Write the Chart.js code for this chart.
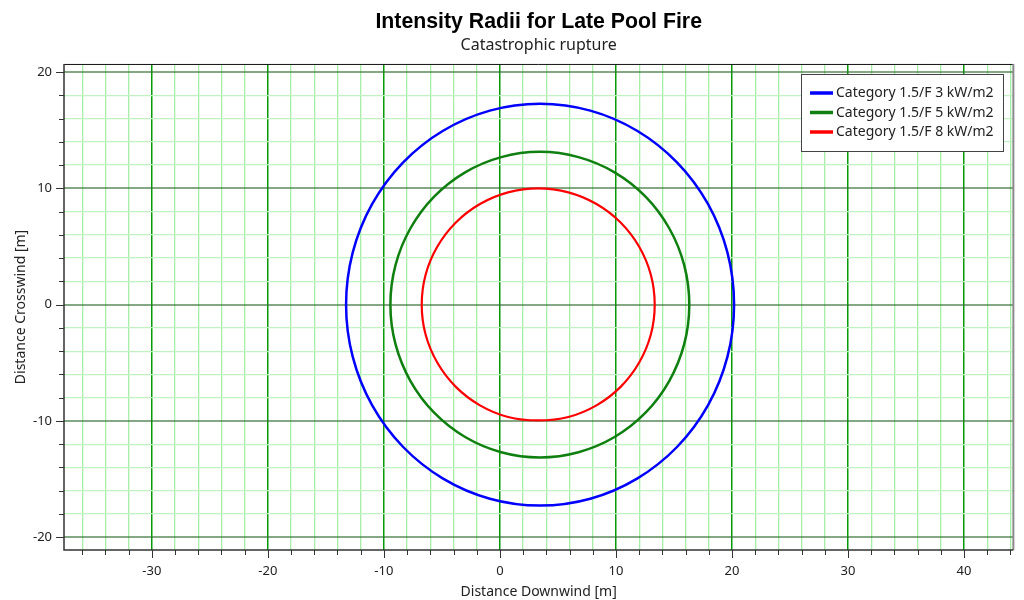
<!DOCTYPE html>
<html>
<head>
<meta charset="utf-8">
<script src="https://cdn.jsdelivr.net/npm/chart.js@4.4.1/dist/chart.umd.min.js"></script>
<style>
  html, body { margin: 0; padding: 0; background: #ffffff; }
  #wrap { width: 1024px; height: 600px; }
</style>
</head>
<body>
<div id="wrap"><canvas id="c" width="1024" height="600"></canvas></div>
<script>
// Series names and colours
const seriesLabels = ['Category 1.5/F 3 kW/m2', 'Category 1.5/F 5 kW/m2', 'Category 1.5/F 8 kW/m2'];
const seriesColors = ['#0000ff', '#0f7f0f', '#ff0000'];

// Closed contour of the 3 kW/m2 intensity radius (downwind x, crosswind y, metres)
const ring3X = [20.18, 19.61, 17.94, 15.28, 11.82, 7.79, 3.46, -0.87, -4.90, -8.36, -11.02, -12.69, -13.26, -12.69, -11.02, -8.36, -4.90, -0.87, 3.46, 7.79, 11.82, 15.28, 17.94, 19.61];
const ring3Y = [0, 4.47, 8.64, 12.22, 14.96, 16.69, 17.28, 16.69, 14.96, 12.22, 8.64, 4.47, 0, -4.47, -8.64, -12.22, -14.96, -16.69, -17.28, -16.69, -14.96, -12.22, -8.64, -4.47];

// Closed contour of the 5 kW/m2 intensity radius
const ring5X = [16.32, 15.88, 14.59, 12.55, 9.88, 6.77, 3.44, 0.11, -3.00, -5.67, -7.71, -9.00, -9.44, -9.00, -7.71, -5.67, -3.00, 0.11, 3.44, 6.77, 9.88, 12.55, 14.59, 15.88];
const ring5Y = [0, 3.40, 6.57, 9.29, 11.38, 12.69, 13.14, 12.69, 11.38, 9.29, 6.57, 3.40, 0, -3.40, -6.57, -9.29, -11.38, -12.69, -13.14, -12.69, -11.38, -9.29, -6.57, -3.40];

// Closed contour of the 8 kW/m2 intensity radius
const ring8X = [13.34, 13.00, 11.99, 10.40, 8.32, 5.90, 3.30, 0.70, -1.72, -3.80, -5.39, -6.40, -6.74, -6.40, -5.39, -3.80, -1.72, 0.70, 3.30, 5.90, 8.32, 10.40, 11.99, 13.00];
const ring8Y = [0, 2.59, 5.00, 7.07, 8.66, 9.66, 10.00, 9.66, 8.66, 7.07, 5.00, 2.59, 0, -2.59, -5.00, -7.07, -8.66, -9.66, -9.96, -9.66, -8.66, -7.07, -5.00, -2.59];

// Axis ticks: every 2 m, labelled every 10 m
const xTicks = [-36, -34, -32, -30, -28, -26, -24, -22, -20, -18, -16, -14, -12, -10, -8, -6, -4, -2, 0, 2, 4, 6, 8, 10, 12, 14, 16, 18, 20, 22, 24, 26, 28, 30, 32, 34, 36, 38, 40, 42, 44];
const yTicks = [-20, -18, -16, -14, -12, -10, -8, -6, -4, -2, 0, 2, 4, 6, 8, 10, 12, 14, 16, 18, 20];
const xLabelValues = [-30, -20, -10, 0, 10, 20, 30, 40];
const xLabelTexts = ['-30', '-20', '-10', '0', '10', '20', '30', '40'];
const yLabelValues = [-20, -10, 0, 10, 20];
const yLabelTexts = ['-20', '-10', '0', '10', '20'];

const uiFont = '"Noto Sans", "Open Sans", sans-serif';

function pts(xs, ys) { return xs.map((x, i) => ({ x: x, y: ys[i] })); }
function isMajor(v) { return Math.abs(v % 10) < 1e-9; }

// Each contour is a closed curve: join the last point back to the first
const closedContours = {
  id: 'closedContours',
  afterDatasetUpdate(chart, args) {
    const line = args.meta.dataset;
    if (!line) return;
    line._loop = true;
    line._pointsUpdated = false;
    delete line._segments;
    delete line._path;
  }
};

// Tick marks outside the plot, plot frame and legend box
const framePlugin = {
  id: 'frame',
  afterDraw(chart) {
    const { ctx, chartArea: a, scales } = chart;
    ctx.save();
    ctx.strokeStyle = '#333333';
    ctx.lineWidth = 1;
    xTicks.forEach(v => {
      const px = Math.round(scales.x.getPixelForValue(v)) + 0.5;
      const len = isMajor(v) ? 8 : 5;
      ctx.beginPath(); ctx.moveTo(px, a.bottom); ctx.lineTo(px, a.bottom + len); ctx.stroke();
    });
    yTicks.forEach(v => {
      const py = Math.round(scales.y.getPixelForValue(v)) + 0.5;
      const len = isMajor(v) ? 8 : 5;
      ctx.beginPath(); ctx.moveTo(a.left, py); ctx.lineTo(a.left - len, py); ctx.stroke();
    });
    ctx.strokeStyle = '#111111';
    ctx.lineWidth = 1;
    ctx.beginPath(); ctx.moveTo(a.left, a.top + 0.5); ctx.lineTo(a.right, a.top + 0.5); ctx.stroke();
    ctx.strokeStyle = '#8a8a8a';
    ctx.lineWidth = 2;
    ctx.beginPath(); ctx.moveTo(a.right, a.top); ctx.lineTo(a.right, a.bottom); ctx.stroke();
    ctx.strokeStyle = '#333333';
    ctx.lineWidth = 1.5;
    ctx.beginPath(); ctx.moveTo(a.left, a.top); ctx.lineTo(a.left, a.bottom); ctx.lineTo(a.right, a.bottom); ctx.stroke();

    const bx = 801.5, by = 74.5, bw = 202, bh = 77;
    ctx.fillStyle = '#ffffff';
    ctx.fillRect(bx, by, bw, bh);
    ctx.strokeStyle = '#444444';
    ctx.lineWidth = 1;
    ctx.strokeRect(bx, by, bw, bh);
    ctx.font = '14px ' + uiFont;
    ctx.textBaseline = 'middle';
    ctx.textAlign = 'left';
    chart.data.datasets.forEach((ds, i) => {
      const y = 93 + i * 19.5;
      ctx.strokeStyle = ds.borderColor;
      ctx.lineWidth = 3.5;
      ctx.beginPath(); ctx.moveTo(810, y); ctx.lineTo(833, y); ctx.stroke();
      ctx.fillStyle = '#222222';
      ctx.fillText(ds.label, 836, y + 0.5);
    });
    ctx.restore();
  }
};

new Chart(document.getElementById('c'), {
  type: 'line',
  data: {
    datasets: [
      { label: seriesLabels[0], data: pts(ring3X, ring3Y), borderColor: seriesColors[0], borderWidth: 2.5 },
      { label: seriesLabels[1], data: pts(ring5X, ring5Y), borderColor: seriesColors[1], borderWidth: 2.5 },
      { label: seriesLabels[2], data: pts(ring8X, ring8Y), borderColor: seriesColors[2], borderWidth: 2.2 }
    ].map(d => Object.assign(d, { pointRadius: 0, pointHoverRadius: 0, tension: 0.34, fill: false, spanGaps: true }))
  },
  options: {
    responsive: false,
    animation: false,
    events: [],
    layout: { padding: { left: 0, right: 10, top: 0, bottom: 0 } },
    plugins: {
      legend: { display: false },
      tooltip: { enabled: false },
      title: {
        display: true, fullSize: false,
        text: 'Intensity Radii for Late Pool Fire',
        color: '#000000',
        font: { family: '"Liberation Sans", Arial, sans-serif', size: 21.3, weight: 'bold', lineHeight: 1.2 },
        padding: { top: 8.9, bottom: 0 }
      },
      subtitle: {
        display: true, fullSize: false,
        text: 'Catastrophic rupture',
        color: '#222222',
        font: { family: uiFont, size: 16, lineHeight: 1.2 },
        padding: { top: 1.7, bottom: 8.6 }
      }
    },
    scales: {
      x: {
        type: 'linear',
        min: -37.57, max: 44.25,
        afterBuildTicks: s => { s.ticks = xTicks.map(v => ({ value: v })); },
        afterFit: s => { s.height = 50; },
        ticks: {
          autoSkip: false, maxRotation: 0, padding: 13.5,
          color: '#222222', font: { family: uiFont, size: 13 },
          callback: v => { const k = xLabelValues.indexOf(v); return k >= 0 ? xLabelTexts[k] : ''; }
        },
        grid: {
          drawTicks: false,
          color: c => isMajor(c.tick.value) ? '#079a07' : '#a6eea6',
          lineWidth: c => isMajor(c.tick.value) ? 1.5 : 1.3
        },
        border: { display: false },
        title: {
          display: true, text: 'Distance Downwind [m]', color: '#222222',
          font: { family: uiFont, size: 14, lineHeight: 1.2 },
          padding: { top: 0, bottom: 0 }
        }
      },
      y: {
        type: 'linear',
        min: -21.1, max: 20.7,
        afterBuildTicks: s => { s.ticks = yTicks.map(v => ({ value: v })); },
        afterFit: s => { s.width = 64; },
        ticks: {
          autoSkip: false, padding: 12,
          color: '#222222', font: { family: uiFont, size: 13 },
          callback: v => { const k = yLabelValues.indexOf(v); return k >= 0 ? yLabelTexts[k] : ''; }
        },
        grid: {
          drawTicks: false,
          color: c => isMajor(c.tick.value) ? 'rgba(50,110,50,0.6)' : '#bff3bf',
          lineWidth: c => isMajor(c.tick.value) ? 2 : 1.3
        },
        border: { display: false },
        title: {
          display: true, text: 'Distance Crosswind [m]', color: '#222222',
          font: { family: uiFont, size: 14, lineHeight: 1.2 },
          padding: { top: 12.6, bottom: 0 }
        }
      }
    }
  },
  plugins: [closedContours, framePlugin]
});
</script>
</body>
</html>
